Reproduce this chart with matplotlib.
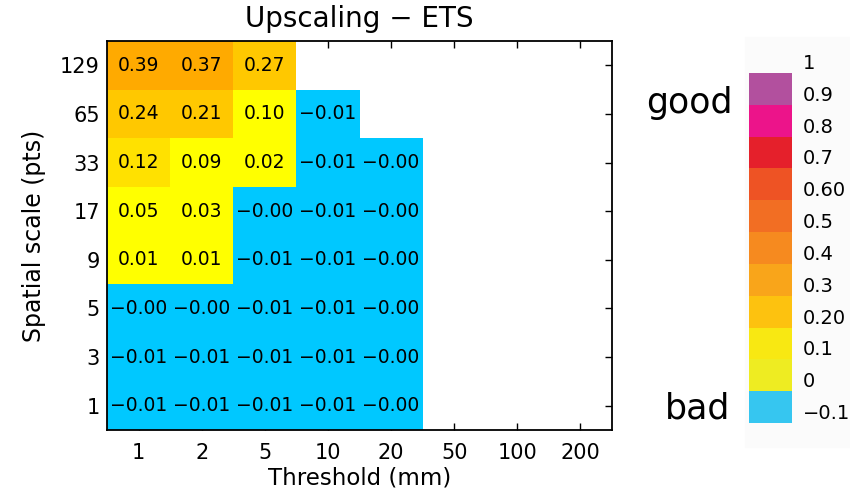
import numpy as np
import matplotlib
matplotlib.use('Agg')
import matplotlib.pyplot as plt
from matplotlib.colors import ListedColormap, BoundaryNorm
from matplotlib.cm import ScalarMappable
from matplotlib.patches import Rectangle

# data: rows are spatial scales (bottom -> top), columns are thresholds
thresholds = ['1', '2', '5', '10', '20', '50', '100', '200']
scales = ['1', '3', '5', '9', '17', '33', '65', '129']
nan = np.nan
# "-0.00" stored as small negatives, the 0.10 cell sits just below 0.1 (drawn yellow)
ets = np.array([
    [-0.01, -0.01, -0.01, -0.01, -0.004, nan, nan, nan],   # 1
    [-0.01, -0.01, -0.01, -0.01, -0.004, nan, nan, nan],   # 3
    [-0.004, -0.004, -0.01, -0.01, -0.004, nan, nan, nan], # 5
    [0.01, 0.01, -0.01, -0.01, -0.004, nan, nan, nan],     # 9
    [0.05, 0.03, -0.004, -0.01, -0.004, nan, nan, nan],    # 17
    [0.12, 0.09, 0.02, -0.01, -0.004, nan, nan, nan],      # 33
    [0.24, 0.21, 0.0996, -0.01, nan, nan, nan, nan],       # 65
    [0.39, 0.37, 0.27, nan, nan, nan, nan, nan],           # 129
])

bounds = [-0.1, 0, 0.1, 0.2, 0.3, 0.4, 0.5, 0.6, 0.7, 0.8, 0.9, 1.0]
bound_labels = ['\u22120.1', '0', '0.1', '0.20', '0.3', '0.4', '0.5',
                '0.60', '0.7', '0.8', '0.9', '1']
cell_colors = ['#00c8ff', '#ffff00', '#ffe100', '#ffc800', '#ffaa00', '#ff8c00',
               '#ff6e00', '#ff5000', '#ff0000', '#ff1493', '#b040a0']
bar_colors = ['#36c6f0', '#eeec22', '#f8e812', '#fdc20f', '#f9a51a', '#f68a1f',
              '#f26e23', '#ee5324', '#e5202b', '#ec148a', '#b2509e']

fig = plt.figure(figsize=(8.5, 4.94), dpi=100)

# faint panel behind the colour key
fig.patches.append(Rectangle((745/850, 1-447/494), 105/850, 410/494,
                             transform=fig.transFigure, color='#fbfbfb', zorder=-1))

ax = fig.add_axes([107/850, 1-430/494, 505/850, 389/494])
norm = BoundaryNorm(bounds, len(cell_colors))
ax.pcolormesh(np.arange(9), np.arange(9), np.ma.masked_invalid(ets),
              cmap=ListedColormap(cell_colors), norm=norm)
for i in range(ets.shape[0]):
    for j in range(ets.shape[1]):
        v = ets[i, j]
        if np.isnan(v):
            continue
        ax.text(j + 0.5, i + 0.5, f'{v:.2f}'.replace('-', '\u2212'),
                ha='center', va='center', fontsize=13.5, color='black')

ax.set_xlim(0, 8)
ax.set_ylim(0, 8)
ax.set_xticks(np.arange(8) + 0.5)
ax.set_xticklabels(thresholds)
ax.set_yticks(np.arange(8) + 0.5)
ax.set_yticklabels(scales)
ax.set_axisbelow(True)
ax.tick_params(axis='both', direction='in', length=5, width=1, labelsize=15,
               top=True, right=True)
ax.tick_params(axis='x', pad=9)
ax.tick_params(axis='y', pad=5)
for s in ax.spines.values():
    s.set_linewidth(1.3)
ax.set_title('Upscaling \u2212 ETS', fontsize=20, pad=10)
ax.set_xlabel('Threshold (mm)', fontsize=16.5, labelpad=3)
ax.set_ylabel('Spatial scale (pts)', fontsize=17, labelpad=10)

# colour key
cax = fig.add_axes([749/850, 1-423/494, 43/850, 350/494])
cb = fig.colorbar(ScalarMappable(norm=BoundaryNorm(bounds, len(bar_colors)),
                                 cmap=ListedColormap(bar_colors)),
                  cax=cax, ticks=bounds)
cb.outline.set_visible(False)
cb.set_ticklabels(bound_labels)
cax.tick_params(length=0, labelsize=14, pad=8)
for lbl in cax.get_yticklabels():
    lbl.set_va('bottom')

fig.text(733/850, 1-113/494, 'good', ha='right', va='baseline', fontsize=25)
fig.text(730/850, 1-418/494, 'bad', ha='right', va='baseline', fontsize=25)

fig.savefig('out.png', dpi=100)
